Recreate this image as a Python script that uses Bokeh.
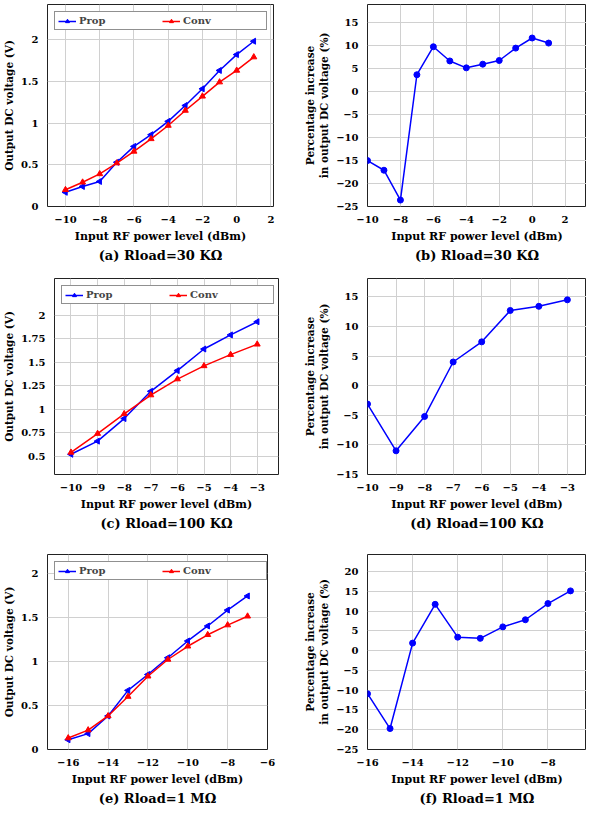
import math
from bokeh.plotting import figure
from bokeh.layouts import column, row
from bokeh.models import (FixedTicker, Range1d, Legend, LegendItem, Title)
from bokeh.embed import file_html
from bokeh.resources import INLINE

# ---------------- data ----------------
x_a = [-10, -9, -8, -7, -6, -5, -4, -3, -2, -1, 0, 1]
prop_a = [0.17, 0.24, 0.30, 0.53, 0.72, 0.86, 1.02, 1.21, 1.41, 1.63, 1.82, 1.98]
conv_a = [0.20, 0.29, 0.39, 0.52, 0.66, 0.81, 0.97, 1.15, 1.32, 1.49, 1.63, 1.79]
pct_b = [-15.0, -17.1, -23.6, 3.7, 9.8, 6.7, 5.2, 6.0, 6.8, 9.5, 11.7, 10.6]

x_c = [-10, -9, -8, -7, -6, -5, -4, -3]
prop_c = [0.52, 0.66, 0.90, 1.19, 1.41, 1.64, 1.79, 1.93]
conv_c = [0.54, 0.74, 0.95, 1.15, 1.32, 1.46, 1.58, 1.69]
pct_d = [-3.1, -11.0, -5.2, 4.0, 7.4, 12.7, 13.4, 14.5]

x_e = [-16, -15, -14, -13, -12, -11, -10, -9, -8, -7]
prop_e = [0.11, 0.18, 0.38, 0.67, 0.85, 1.04, 1.23, 1.40, 1.58, 1.74]
conv_e = [0.13, 0.22, 0.38, 0.60, 0.83, 1.02, 1.17, 1.30, 1.41, 1.51]
pct_f = [-10.9, -19.7, 1.9, 11.7, 3.4, 3.1, 6.0, 7.8, 11.9, 15.1]

xt_a = [-10, -8, -6, -4, -2, 0, 2]
yt_a = [0, 0.5, 1, 1.5, 2]
yl_a = ["0", "0.5", "1", "1.5", "2"]
yt_b = [-25, -20, -15, -10, -5, 0, 5, 10, 15]
xt_c = [-10, -9, -8, -7, -6, -5, -4, -3]
yt_c = [0.5, 0.75, 1, 1.25, 1.5, 1.75, 2]
yl_c = ["0.5", "0.75", "1", "1.25", "1.5", "1.75", "2"]
yt_d = [-15, -10, -5, 0, 5, 10, 15]
xt_e = [-16, -14, -12, -10, -8, -6]
xt_f = [-16, -14, -12, -10, -8]
yt_e = [0, 0.5, 1, 1.5, 2]
yl_e = ["0", "0.5", "1", "1.5", "2"]
yt_f = [-25, -20, -15, -10, -5, 0, 5, 10, 15, 20]

captions = ["(a) Rload=30 K\u03a9", "(b) Rload=30 K\u03a9",
            "(c) Rload=100 K\u03a9", "(d) Rload=100 K\u03a9",
            "(e) Rload=1 M\u03a9", "(f) Rload=1 M\u03a9"]
xlabel = "Input RF power level (dBm)"
ylabel_v = "Output DC voltage (V)"
ylabel_p = "Percentage increase\nin output DC voltage (%)"

FONT = "DejaVu Serif"
BLUE = "#0000ff"
RED = "#ff0000"


def num_label(v):
    s = ("%g" % v)
    return s.replace("-", "\u2212")


def make_fig(w, h, bl, br, bt, bb, xr, yr, xt, yt, ylab, cap, ytl=None):
    p = figure(width=w, height=h, output_backend="svg", toolbar_location=None,
               x_range=Range1d(*xr), y_range=Range1d(*yr),
               min_border_left=bl, min_border_right=br,
               min_border_top=bt, min_border_bottom=bb)
    p.outline_line_color = "#222222"
    p.outline_line_width = 1
    p.background_fill_color = "white"
    p.border_fill_color = "white"
    for ax, ticks, labels in ((p.xaxis[0], xt, None), (p.yaxis[0], yt, ytl)):
        ax.ticker = FixedTicker(ticks=ticks)
        if labels is None:
            labels = [num_label(t) for t in ticks]
        ax.major_label_overrides = {t: l for t, l in zip(ticks, labels)}
        ax.axis_line_color = None
        ax.major_tick_line_color = None
        ax.minor_tick_line_color = None
        ax.major_label_text_font = FONT
        ax.major_label_text_font_style = "bold"
        ax.major_label_text_font_size = "10px"
        ax.major_label_text_color = "black"
        ax.major_label_standoff = 3
        ax.axis_label_text_font = FONT
        ax.axis_label_text_font_style = "bold"
        ax.axis_label_text_font_size = "11px"
        ax.axis_label_text_color = "black"
        ax.axis_label_standoff = 4
    p.xaxis.axis_label = xlabel
    p.yaxis.axis_label = ylab
    p.yaxis.axis_label_standoff = 3
    p.yaxis.major_label_standoff = 3
    p.yaxis.axis_label_text_font_size = "10.5px"
    p.grid.grid_line_color = "#d0d0d0"
    p.grid.grid_line_width = 1
    p.add_layout(Title(text=cap, align="center", text_font=FONT,
                       text_font_style="bold", text_font_size="13px",
                       text_color="black", standoff=0, offset=0), "below")
    return p


def voltage_panel(p, x, prop, conv):
    l1 = p.line(x, prop, line_color=BLUE, line_width=1.5)
    s1 = p.scatter(x, prop, marker="triangle", angle=math.pi / 2, size=6,
                   fill_color=BLUE, line_color=BLUE)
    l2 = p.line(x, conv, line_color=RED, line_width=1.5)
    s2 = p.scatter(x, conv, marker="triangle", size=6,
                   fill_color=RED, line_color=RED)
    leg = Legend(items=[LegendItem(label="Prop", renderers=[l1, s1]),
                        LegendItem(label="Conv", renderers=[l2, s2])],
                 orientation="horizontal", location="top_left",
                 margin=7, padding=3, spacing=3,
                 glyph_width=18, glyph_height=10, label_height=10,
                 label_width=80, label_standoff=3,
                 label_text_font=FONT, label_text_font_style="bold",
                 label_text_font_size="10px",
                 border_line_color="#222222", border_line_width=1,
                 background_fill_alpha=1.0)
    p.add_layout(leg, "center")


def pct_panel(p, x, pct):
    p.line(x, pct, line_color=BLUE, line_width=1.5)
    p.scatter(x, pct, marker="circle", size=6, fill_color=BLUE, line_color=BLUE)


LW, RW = 300, 286
H1, H2, H3 = 265, 265, 275

pa = make_fig(LW, H1, 38, 27, 1, 59, (-11.05, 2.15), (0, 2.42), xt_a, yt_a,
              ylabel_v, captions[0], yl_a)
voltage_panel(pa, x_a, prop_a, conv_a)
pb = make_fig(RW, H1, 53, 0, 4, 59, (-10, 3.3), (-25, 19), xt_a, yt_b,
              ylabel_p, captions[1])
pct_panel(pb, x_a, pct_b)

pc = make_fig(LW, H2, 43, 22, 12, 51, (-10.62, -2.2), (0.305, 2.39), xt_c, yt_c,
              ylabel_v, captions[2], yl_c)
voltage_panel(pc, x_c, prop_c, conv_c)
pd = make_fig(RW, H2, 53, 0, 13, 51, (-10, -2.33), (-15, 18.1), xt_c, yt_d,
              ylabel_p, captions[3])
pct_panel(pd, x_c, pct_d)

pe = make_fig(LW, H3, 37, 33, 24, 51, (-17.04, -6), (0, 2.21), xt_e, yt_e,
              ylabel_v, captions[4], yl_e)
voltage_panel(pe, x_e, prop_e, conv_e)
pf = make_fig(RW, H3, 53, 0, 22, 51, (-16, -6.29), (-25, 24.3), xt_f, yt_f,
              ylabel_p, captions[5])
pct_panel(pf, x_e, pct_f)

layout = column(row(pa, pb), row(pc, pd), row(pe, pf))
open("out.html", "w").write(file_html(layout, INLINE))
